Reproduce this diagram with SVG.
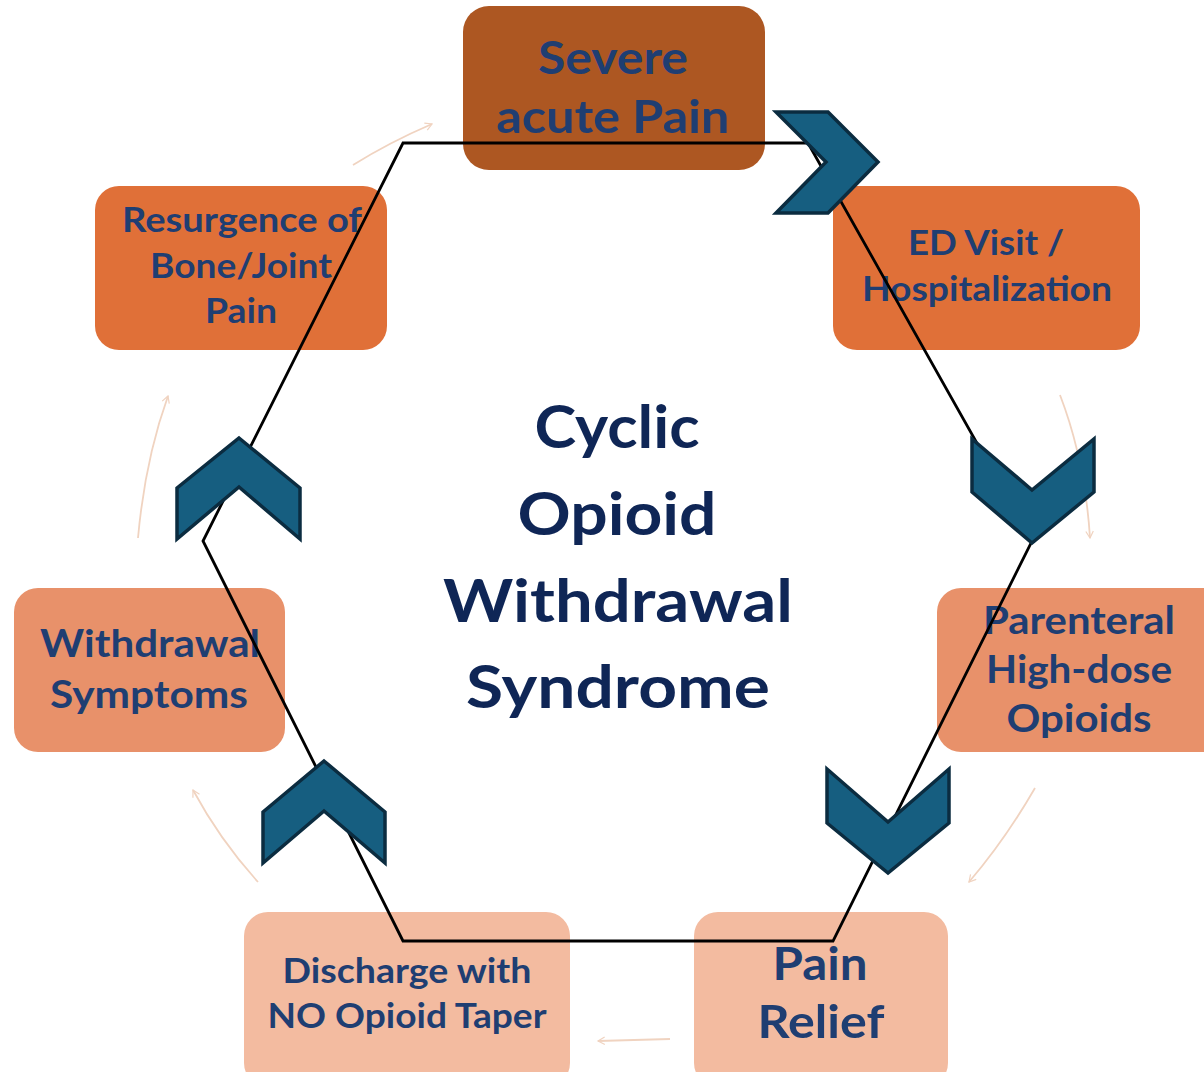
<svg xmlns="http://www.w3.org/2000/svg" width="1204" height="1072" viewBox="0 0 1204 1072">
<defs>
<style>
.box{stroke:none}
.t{font-family:Lato,"Open Sans","Liberation Sans",sans-serif;font-weight:bold;fill:#1F3E72;text-anchor:middle}
.title{font-family:Lato,"Open Sans","Liberation Sans",sans-serif;font-weight:bold;fill:#0F2656;text-anchor:middle;font-size:60px}
.hex{fill:none;stroke:#000;stroke-width:2.8}
.chev{fill:#165E80;stroke:#0B2C40;stroke-width:3.5;stroke-linejoin:miter}
.faint{fill:none;stroke:#F0D3C0;stroke-width:1.8;marker-end:url(#ah)}
</style>
<marker id="ah" viewBox="0 0 12 12" refX="10" refY="6" markerWidth="9" markerHeight="9" markerUnits="userSpaceOnUse" orient="auto">
<path d="M1,1 L10,6 L1,11" fill="none" stroke="#F0D3C0" stroke-width="1.6"/>
</marker>
</defs>
<rect width="1204" height="1072" fill="#fff"/>

<g id="node-severe">
<rect class="box" x="463" y="6" width="302" height="164" rx="26" fill="#AD5722"/>
<text class="t" x="613" y="74" font-size="46" textLength="150" lengthAdjust="spacingAndGlyphs">Severe</text>
<text class="t" x="613" y="133" font-size="46" textLength="233" lengthAdjust="spacingAndGlyphs">acute Pain</text>
</g>
<g id="node-ed">
<rect class="box" x="833" y="186" width="307" height="164" rx="24" fill="#E07038"/>
<text class="t" x="986" y="255" font-size="34" textLength="156" lengthAdjust="spacingAndGlyphs">ED Visit /</text>
<text class="t" x="987" y="301" font-size="34" textLength="250" lengthAdjust="spacingAndGlyphs">Hospitalization</text>
</g>
<g id="node-parenteral">
<rect class="box" x="937" y="588" width="290" height="164" rx="24" fill="#E8916A"/>
<text class="t" x="1079" y="634" font-size="39" textLength="192" lengthAdjust="spacingAndGlyphs">Parenteral</text>
<text class="t" x="1079" y="683" font-size="39" textLength="186" lengthAdjust="spacingAndGlyphs">High-dose</text>
<text class="t" x="1079" y="732" font-size="39" textLength="145" lengthAdjust="spacingAndGlyphs">Opioids</text>
</g>
<g id="node-relief">
<rect class="box" x="694" y="912" width="254" height="175" rx="24" fill="#F3BBA0"/>
<text class="t" x="820" y="980" font-size="46" textLength="95" lengthAdjust="spacingAndGlyphs">Pain</text>
<text class="t" x="821" y="1038" font-size="46" textLength="127" lengthAdjust="spacingAndGlyphs">Relief</text>
</g>
<g id="node-discharge">
<rect class="box" x="244" y="912" width="326" height="175" rx="24" fill="#F3BBA0"/>
<text class="t" x="407" y="983" font-size="34" textLength="249" lengthAdjust="spacingAndGlyphs">Discharge with</text>
<text class="t" x="407" y="1028" font-size="34" textLength="279" lengthAdjust="spacingAndGlyphs">NO Opioid Taper</text>
</g>
<g id="node-withdrawal">
<rect class="box" x="14" y="588" width="271" height="164" rx="24" fill="#E8916A"/>
<text class="t" x="150" y="657" font-size="38" textLength="220" lengthAdjust="spacingAndGlyphs">Withdrawal</text>
<text class="t" x="149" y="708" font-size="38" textLength="198" lengthAdjust="spacingAndGlyphs">Symptoms</text>
</g>
<g id="node-resurgence">
<rect class="box" x="95" y="186" width="292" height="164" rx="24" fill="#E07038"/>
<text class="t" x="242" y="232" font-size="34" textLength="240" lengthAdjust="spacingAndGlyphs">Resurgence of</text>
<text class="t" x="241" y="278" font-size="34" textLength="182" lengthAdjust="spacingAndGlyphs">Bone/Joint</text>
<text class="t" x="241" y="323" font-size="34" textLength="72" lengthAdjust="spacingAndGlyphs">Pain</text>
</g>
<g id="node-title">
<text class="title" x="617" y="448" textLength="165" lengthAdjust="spacingAndGlyphs">Cyclic</text>
<text class="title" x="617" y="535" textLength="199" lengthAdjust="spacingAndGlyphs">Opioid</text>
<text class="title" x="618" y="622" textLength="350" lengthAdjust="spacingAndGlyphs">Withdrawal</text>
<text class="title" x="618" y="708" textLength="304" lengthAdjust="spacingAndGlyphs">Syndrome</text>
</g>

<g id="connectors">
<path class="faint" d="M353,165 Q390,142 432,124"/>
<path class="faint" d="M1060,395 Q1085,460 1090,538"/>
<path class="faint" d="M1035,788 Q1005,840 969,882"/>
<path class="faint" d="M670,1039 L598,1041"/>
<path class="faint" d="M258,882 Q220,840 193,790"/>
<path class="faint" d="M138,538 Q145,460 168,396"/>
<polygon class="hex" points="403,143 808,143 1032,541 833,941 403,941 203,541"/>
<polygon class="chev" points="776,112 828,112 878,162 828,213 776,213 826,162"/>
<polygon class="chev" points="972,439 1032,490 1094,439 1094,492 1032,543 972,492"/>
<polygon class="chev" points="827,769 888,822 949,769 949,823 888,873 827,823"/>
<polygon class="chev" points="324,761 385,812 385,863 324,811 263,863 263,812"/>
<polygon class="chev" points="239,438 300,488 300,539 239,487 177,539 177,488"/>
</g>
</svg>
